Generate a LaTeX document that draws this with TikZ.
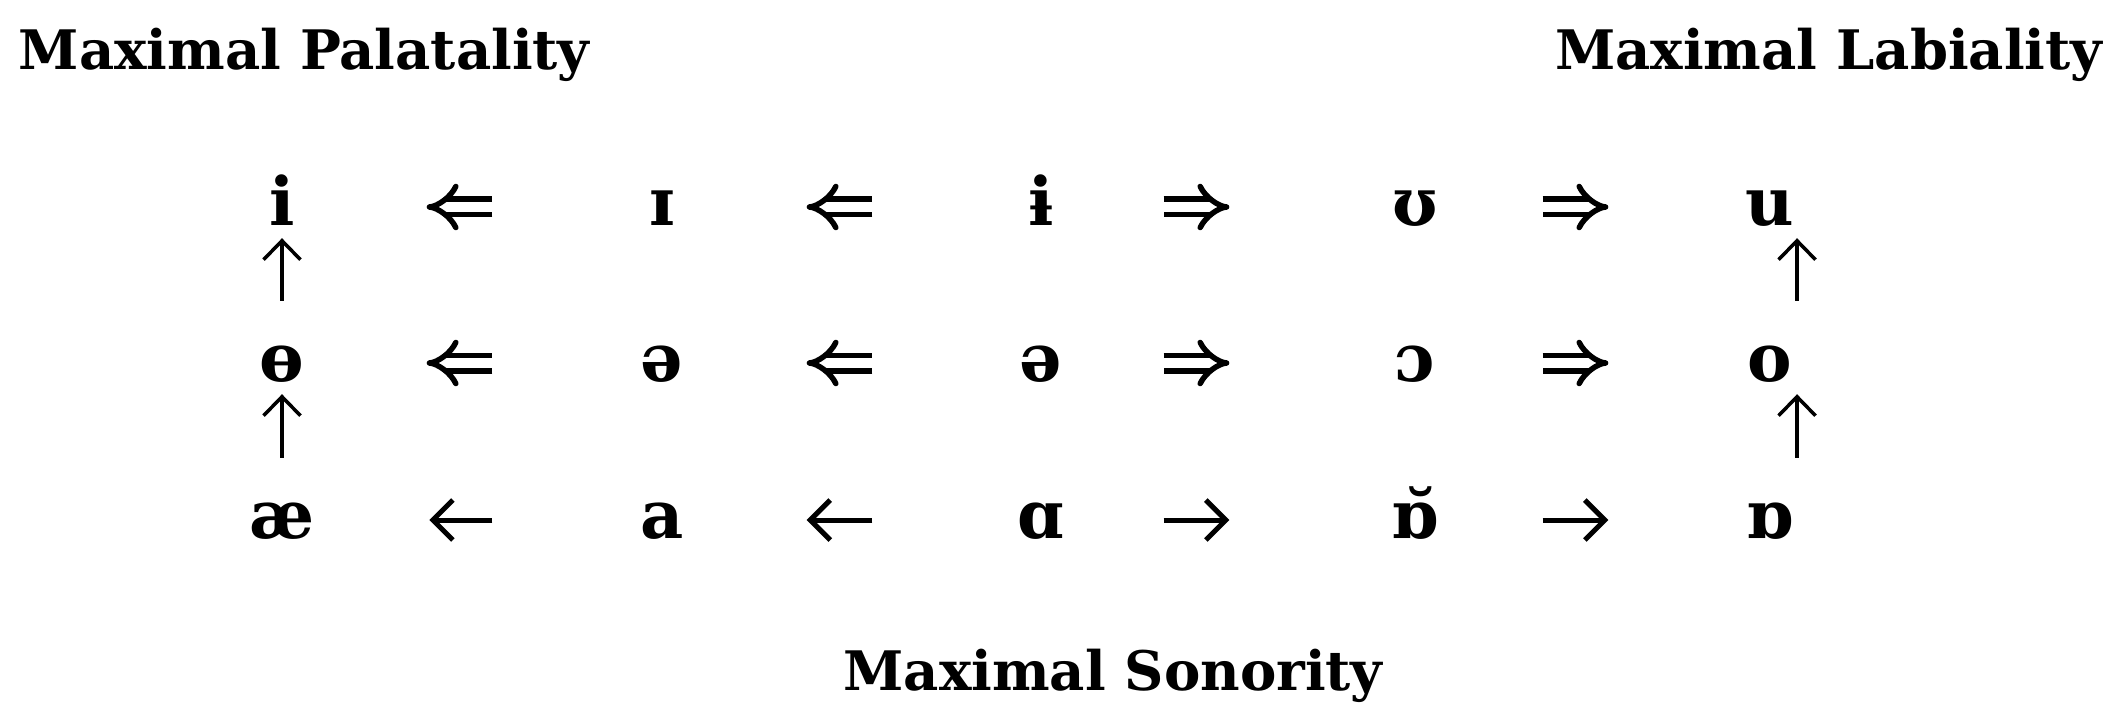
\documentclass[tikz,border=0pt]{standalone}
\usepackage{fontspec}
\setmainfont{DejaVu Serif}
\newfontfamily\ipafont{DejaVu Serif}
\usetikzlibrary{arrows.meta}

\begin{document}
\begin{tikzpicture}[x=1cm,y=1cm]
    \tikzset{
        vowel/.style={font=\ipafont\bfseries\fontsize{19}{19}\selectfont,
            inner sep=0pt,minimum width=0.6cm,text height=0.37cm,text depth=0pt},
        pole/.style={font=\bfseries\fontsize{15.5}{18}\selectfont,
            inner sep=0pt,anchor=base west},
        dblarr/.style={double,double distance=0.1cm,line width=0.055cm,-{Implies}},
        onearr/.style={line width=0.05cm,-{Straight Barb[length=0.2cm,width=0.4cm]}},
        uparr/.style={line width=0.035cm,-{Straight Barb[length=0.19cm,width=0.37cm]},
            shorten <=0.43cm,shorten >=0.12cm},
        gapone/.style={shorten <=1.39cm,shorten >=1.14cm},
        gaptwo/.style={shorten <=1.38cm,shorten >=1.14cm},
        gapthree/.style={shorten <=0.92cm,shorten >=1.55cm},
        gapfour/.style={shorten <=0.97cm,shorten >=1.31cm}
    }
    \useasboundingbox (0,0) rectangle (21.08,7.04);

    \node[pole] (palat) at (0.18,6.34) {Maximal Palatality};
    \node[pole,anchor=base east] (labial) at (21.03,6.34) {Maximal Labiality};
    \node[pole,anchor=base] (sonor) at (11.13,0.14) {Maximal Sonority};

    % high row
    \node[vowel] (i) at (2.82,4.97) {i};
    \node[vowel] (smalli) at (6.62,4.97) {ɪ};
    \node[vowel] (ibar) at (10.41,4.97) {ɨ};
    \node[vowel] (upsilon) at (14.15,4.97) {ʊ};
    \node[vowel] (u) at (17.70,4.97) {u};

    % mid row
    \node[vowel] (obar) at (2.82,3.41) {ɵ};
    \node[vowel] (schwaa) at (6.62,3.41) {ə};
    \node[vowel] (schwab) at (10.41,3.41) {ə};
    \node[vowel] (openo) at (14.15,3.41) {ɔ};
    \node[vowel] (o) at (17.70,3.41) {o};

    % low row
    \node[vowel] (ash) at (2.82,1.84) {æ};
    \node[vowel] (a) at (6.62,1.84) {a};
    \node[vowel] (alpha) at (10.41,1.84) {ɑ};
    \node[vowel] (turnedb) at (14.15,1.84) {ɒ̆};
    \node[vowel] (turned) at (17.70,1.84) {ɒ};

    \draw[dblarr,gapone] (smalli) -- (i);
    \draw[dblarr,gaptwo] (ibar) -- (smalli);
    \draw[dblarr,gapthree] (ibar) -- (upsilon);
    \draw[dblarr,gapfour] (upsilon) -- (u);

    \draw[dblarr,gapone] (schwaa) -- (obar);
    \draw[dblarr,gaptwo] (schwab) -- (schwaa);
    \draw[dblarr,gapthree] (schwab) -- (openo);
    \draw[dblarr,gapfour] (openo) -- (o);

    \draw[onearr,gapone] (a) -- (ash);
    \draw[onearr,gaptwo] (alpha) -- (a);
    \draw[onearr,gapthree] (alpha) -- (turnedb);
    \draw[onearr,gapfour] (turnedb) -- (turned);

    \draw[uparr] (ash) -- (obar);
    \draw[uparr] (obar) -- (i);
    \draw[uparr] ([xshift=0.27cm]turned.north) -- ([xshift=0.27cm]o.south);
    \draw[uparr] ([xshift=0.27cm]o.north) -- ([xshift=0.27cm]u.south);
\end{tikzpicture}
\end{document}
